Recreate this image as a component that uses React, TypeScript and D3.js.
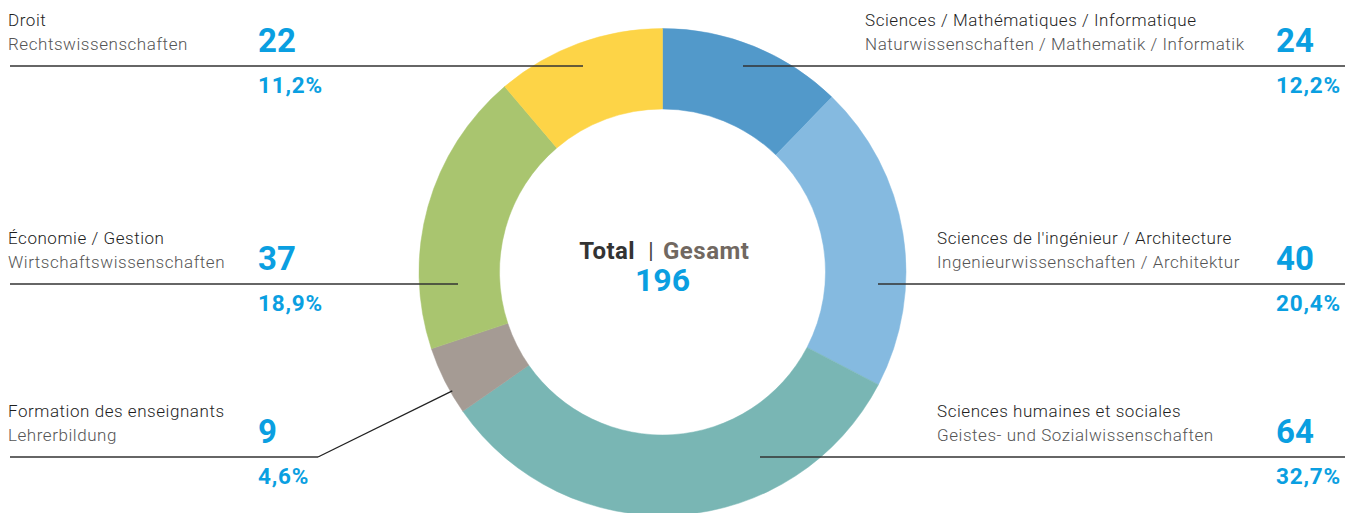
import React from "react";
import * as d3 from "d3";

// Data
const labelsFr = [
  "Sciences / Mathématiques / Informatique",
  "Sciences de l'ingénieur / Architecture",
  "Sciences humaines et sociales",
  "Formation des enseignants",
  "Économie / Gestion",
  "Droit",
];
const labelsDe = [
  "Naturwissenschaften / Mathematik / Informatik",
  "Ingenieurwissenschaften / Architektur",
  "Geistes- und Sozialwissenschaften",
  "Lehrerbildung",
  "Wirtschaftswissenschaften",
  "Rechtswissenschaften",
];
const counts = [24, 40, 64, 9, 37, 22];
const colors = ["#5299CA", "#85BAE0", "#79B6B4", "#A59B94", "#A9C56F", "#FDD447"];

// label layout: side, y of rule, x of label text, x where the leader ends in the ring
const layout = [
  { side: "right", y: 66, textX: 865, end: 743 },
  { side: "right", y: 284, textX: 937, end: 878 },
  { side: "right", y: 457, textX: 937, end: 760 },
  { side: "left", y: 457, textX: 8, end: 318 },
  { side: "left", y: 284, textX: 8, end: 458 },
  { side: "left", y: 66, textX: 8, end: 583 },
];

const W = 1357;
const H = 513;
const cx = 662.5;
const cy = 272;
const outerR = 243.5;
const innerR = 163;
const blue = "#0A9FE1";
const font = "Roboto, 'Open Sans', sans-serif";

export default function App() {
  const total = d3.sum(counts);
  const pie = d3.pie<number>().sort(null).value((d) => d);
  const arcs = pie(counts);
  const arc = d3.arc<d3.PieArcDatum<number>>().innerRadius(innerR).outerRadius(outerR);
  const pct = (v: number) => d3.format(".1f")((v / total) * 100).replace(".", ",") + "%";

  return (
    <svg width={W} height={H} style={{ position: "absolute", left: 0, top: 0 }} fontFamily={font}>
      <g transform={`translate(${cx},${cy})`}>
        {arcs.map((a, i) => (
          <path key={i} d={arc(a) || ""} fill={colors[i]} stroke={colors[i]} strokeWidth={0.5} />
        ))}
      </g>

      {arcs.map((a, i) => {
        const L = layout[i];
        const numX = L.side === "left" ? 258 : 1276;
        const ruleStart = L.side === "left" ? 10 : L.end;
        const ruleEnd = L.side === "left" ? L.end : 1345;
        let extra = null;
        if (i === 3) {
          // diagonal leader into the small slice
          const mid = (a.startAngle + a.endAngle) / 2 - 0.05;
          const r = outerR - 2;
          const px = cx + r * Math.sin(mid);
          const py = cy - r * Math.cos(mid);
          extra = <line x1={L.end} y1={L.y} x2={px} y2={py} stroke="#222" strokeWidth={1.3} />;
        }
        return (
          <g key={i}>
            <line x1={ruleStart} y1={L.y} x2={ruleEnd} y2={L.y} stroke="#333" strokeWidth={1.5} />
            {extra}
            <text x={L.textX} y={L.y - 40} fontSize={17} fontWeight={300} fill="#1e1e1e" letterSpacing={0.55}>
              {labelsFr[i]}
            </text>
            <text x={L.textX} y={L.y - 16} fontSize={17} fontWeight={300} fill="#555" letterSpacing={0.55}>
              {labelsDe[i]}
            </text>
            <text x={numX} y={L.y - 14} fontSize={33} fontWeight={700} fill={blue}>
              {counts[i]}
            </text>
            <text x={numX} y={L.y + 27} fontSize={22.5} fontWeight={700} fill={blue} letterSpacing={0.8}>
              {pct(counts[i])}
            </text>
          </g>
        );
      })}

      <text x={635} y={259} textAnchor="end" fontSize={24} fontWeight={700} fill="#333" letterSpacing={0.4}>
        Total
      </text>
      <text x={651} y={258} textAnchor="middle" fontSize={22} fontWeight={400} fill="#444">
        |
      </text>
      <text x={663} y={259} fontSize={24} fontWeight={700} fill="#716861" letterSpacing={0.5}>
        Gesamt
      </text>
      <text x={cx} y={291} textAnchor="middle" fontSize={32} fontWeight={700} fill={blue}>
        {total}
      </text>
    </svg>
  );
}
